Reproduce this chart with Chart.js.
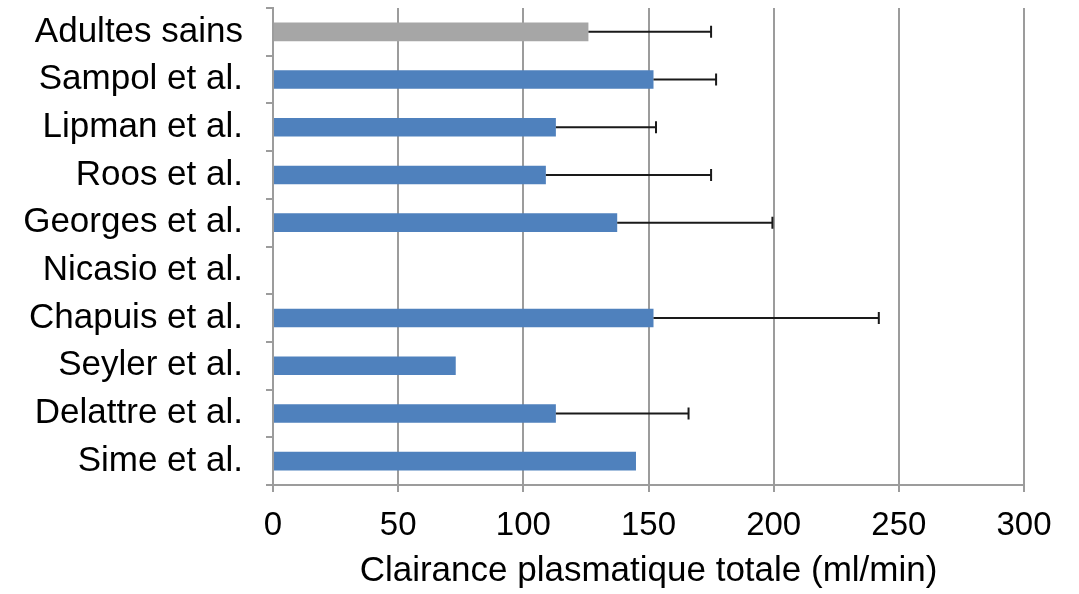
<!DOCTYPE html>
<html>
<head>
<meta charset="utf-8">
<script src="https://cdn.jsdelivr.net/npm/chart.js@4/dist/chart.umd.min.js"></script>
<style>
  html, body { margin: 0; padding: 0; background: #fff; }
  #wrap { width: 1079px; height: 594px; position: relative; }
</style>
</head>
<body>
<div id="wrap"><canvas id="chart"></canvas></div>
<script>
// Data
const studies = ['Adultes sains', 'Sampol et al.', 'Lipman et al.', 'Roos et al.', 'Georges et al.',
                 'Nicasio et al.', 'Chapuis et al.', 'Seyler et al.', 'Delattre et al.', 'Sime et al.'];
const clearance = [126, 152, 113, 109, 137.5, null, 152, 73, 113, 145];
const clearanceSd = [49, 25, 40, 66, 62, null, 90, null, 53, null];
const xTicks = [0, 50, 100, 150, 200, 250, 300];

const GRID = '#9c9c9c';
const FONT = "'Liberation Sans', Arial, sans-serif";

// error bars (plus side only, like the original)
const errorBars = {
    id: 'errorBars',
    afterDatasetsDraw(chart) {
        const ctx = chart.ctx;
        const xScale = chart.scales.x;
        const meta = chart.getDatasetMeta(0);
        ctx.save();
        ctx.strokeStyle = '#1a1a1a';
        ctx.lineWidth = 2;
        meta.data.forEach((bar, i) => {
            const v = clearance[i];
            const sd = clearanceSd[i];
            if (v == null || sd == null) return;
            const x0 = xScale.getPixelForValue(v);
            const x1 = xScale.getPixelForValue(v + sd);
            const y = bar.y;
            ctx.beginPath();
            ctx.moveTo(x0, y);
            ctx.lineTo(x1, y);
            ctx.moveTo(x1, y - 6);
            ctx.lineTo(x1, y + 6);
            ctx.stroke();
        });
        ctx.restore();
    }
};

const ctx = document.getElementById('chart').getContext('2d');
new Chart(ctx, {
    type: 'bar',
    data: {
        labels: studies,
        datasets: [{
            data: clearance,
            backgroundColor: studies.map((s, i) => i === 0 ? '#a6a6a6' : '#4f81bd'),
            borderWidth: 0,
            categoryPercentage: 1,
            barPercentage: 0.39,
        }]
    },
    options: {
        indexAxis: 'y',
        responsive: true,
        maintainAspectRatio: false,
        animation: false,
        devicePixelRatio: 1,
        layout: { padding: { top: 8, right: 55, bottom: 0, left: 0 } },
        plugins: {
            legend: { display: false },
            tooltip: { enabled: false },
        },
        scales: {
            x: {
                type: 'linear',
                min: 0,
                max: 300,
                afterBuildTicks: (scale) => {
                    scale.ticks = xTicks.map(v => ({ value: v }));
                },
                afterFit: (scale) => { scale.height = 109; },
                grid: {
                    color: GRID,
                    lineWidth: 2,
                    tickLength: 7,
                },
                border: { color: GRID, width: 2 },
                ticks: {
                    color: '#000',
                    padding: 14,
                    maxRotation: 0,
                    font: { family: FONT, size: 33 },
                },
                title: {
                    display: true,
                    text: 'Clairance plasmatique totale (ml/min)',
                    color: '#000',
                    padding: { top: 0, bottom: 2 },
                    font: { family: FONT, size: 35 },
                }
            },
            y: {
                afterFit: (scale) => {
                    scale.width = 273;
                    // the bar offset already leaves room for the first/last label
                    scale.paddingTop = 0;
                    scale.paddingBottom = 0;
                },
                grid: {
                    color: GRID,
                    lineWidth: 2,
                    offset: true,
                    drawOnChartArea: false,
                    tickLength: 7,
                },
                border: { color: GRID, width: 2 },
                ticks: {
                    color: '#000',
                    padding: 23,
                    autoSkip: false,
                    font: { family: FONT, size: 35 },
                }
            }
        }
    },
    plugins: [errorBars]
});
</script>
</body>
</html>
